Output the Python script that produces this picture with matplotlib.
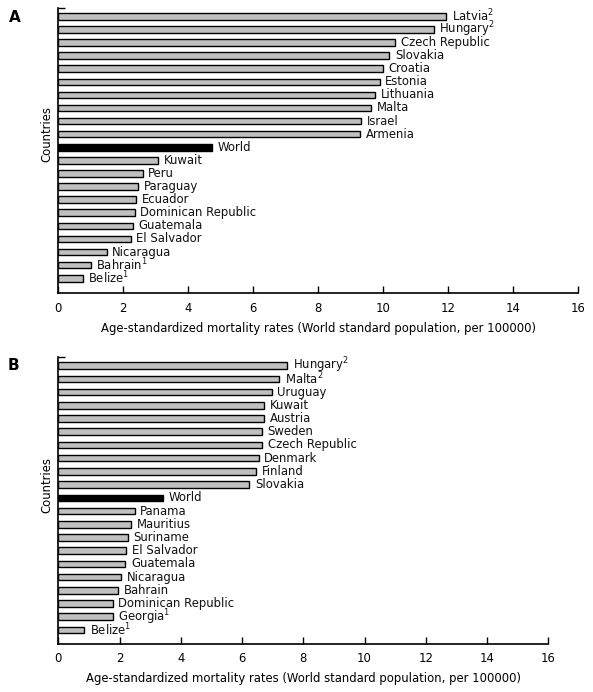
import matplotlib
matplotlib.use("Agg")
import matplotlib.pyplot as plt

# Panel A data
countries_a = ["Latvia$^{2}$", "Hungary$^{2}$", "Czech Republic", "Slovakia", "Croatia",
               "Estonia", "Lithuania", "Malta", "Israel", "Armenia", "World",
               "Kuwait", "Peru", "Paraguay", "Ecuador", "Dominican Republic",
               "Guatemala", "El Salvador", "Nicaragua", "Bahrain$^{1}$", "Belize$^{1}$"]
values_a = [11.95, 11.57, 10.38, 10.2, 9.99, 9.9, 9.76, 9.64, 9.33, 9.3, 4.74,
            3.07, 2.6, 2.45, 2.39, 2.35, 2.29, 2.23, 1.49, 1.0, 0.75]

# Panel B data
countries_b = ["Hungary$^{2}$", "Malta$^{2}$", "Uruguay", "Kuwait", "Austria", "Sweden",
               "Czech Republic", "Denmark", "Finland", "Slovakia", "World",
               "Panama", "Mauritius", "Suriname", "El Salvador", "Guatemala",
               "Nicaragua", "Bahrain", "Dominican Republic", "Georgia$^{1}$", "Belize$^{1}$"]
values_b = [7.48, 7.22, 6.97, 6.73, 6.73, 6.65, 6.65, 6.54, 6.47, 6.24, 3.41,
            2.49, 2.39, 2.26, 2.22, 2.19, 2.06, 1.96, 1.77, 1.77, 0.85]

xticks = [0, 2, 4, 6, 8, 10, 12, 14, 16]
xlabel = "Age-standardized mortality rates (World standard population, per 100000)"
ylabel = "Countries"

W, H = 593, 692
fig = plt.figure(figsize=(W / 100, H / 100), dpi=100)

FS = 8.4
GRAY = "#c0c0c0"


def panel(rect, names, vals, letter, letter_xy, ylab_xy, top_pad, bot_pad):
    ax = fig.add_axes(rect)
    ypos = list(range(len(names)))
    colors = ["black" if n == "World" else GRAY for n in names]
    ax.barh(ypos, vals, height=0.5, color=colors, edgecolor="black", linewidth=1.0)
    for y, v, n in zip(ypos, vals, names):
        ax.annotate(n, (v, y), xytext=(4, 0), textcoords="offset points",
                    ha="left", va="center", fontsize=FS, color="#111111")
    ax.set_xlim(0, 16)
    ax.set_ylim(len(names) - 1 + bot_pad, -top_pad)
    ax.set_xticks(xticks)
    ax.set_xticklabels([str(t) for t in xticks], fontsize=FS)
    ax.set_yticks([-top_pad])
    ax.set_yticklabels([])
    ax.tick_params(axis="x", direction="in", length=5, width=1.0, pad=6)
    ax.tick_params(axis="y", direction="in", length=5, width=1.0)
    for s in ["top", "right"]:
        ax.spines[s].set_visible(False)
    for s in ["left", "bottom"]:
        ax.spines[s].set_linewidth(1.2)
    ax.set_xlabel(xlabel, fontsize=FS, labelpad=5)
    ax.set_ylabel(ylabel, fontsize=FS)
    ax.yaxis.set_label_coords(*ylab_xy)
    fig.text(letter_xy[0] / W, 1 - letter_xy[1] / H, letter, fontsize=11,
             fontweight="bold", ha="center", va="center")
    return ax


# axes rects from pixel geometry
la, ra, ta, ba = 58.3, 577.7, 8.3, 293.3
panel([la / W, 1 - ba / H, (ra - la) / W, (ba - ta) / H], countries_a, values_a,
      "A", (14.5, 18), (-0.0102, 0.559), 0.61, 1.15)

lb, rb, tb, bb = 58.3, 548.3, 356.7, 644.0
panel([lb / W, 1 - bb / H, (rb - lb) / W, (bb - tb) / H], countries_b, values_b,
      "B", (13.5, 365), (-0.0108, 0.553), 0.68, 1.06)

fig.savefig("out.png", dpi=100)
